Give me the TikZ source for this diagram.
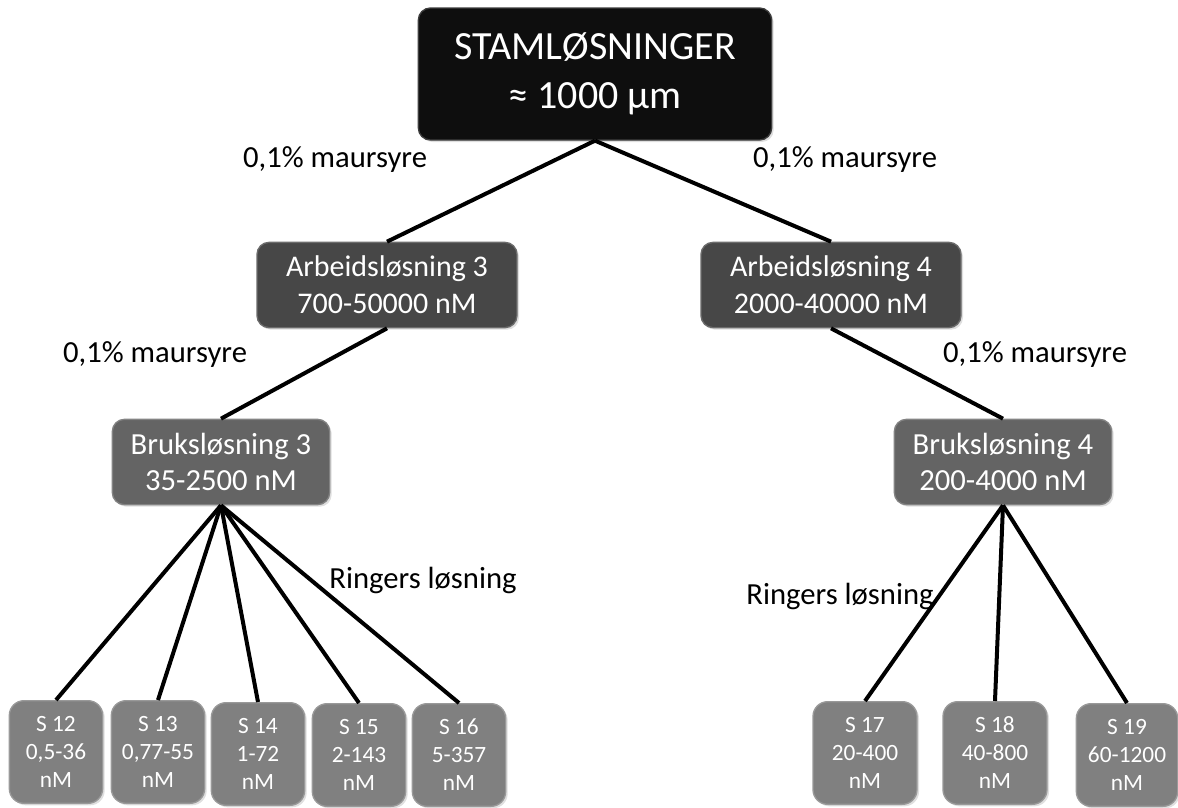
\documentclass[tikz,border=0pt]{standalone}
\usepackage{fontspec}
\setmainfont{Carlito}
\usepackage{xcolor}
\usetikzlibrary{shadows}
\definecolor{stamfill}{HTML}{0E0E0E}
\definecolor{arbfill}{HTML}{474747}
\definecolor{bruksfill}{HTML}{646464}
\definecolor{sfill}{HTML}{808080}

\tikzset{
  box/.style={rounded corners=9pt, text=white, align=center, inner sep=0pt, draw=#1!80!white, fill=#1, line width=1pt,
    drop shadow={shadow xshift=1.5pt, shadow yshift=-1.5pt, opacity=0.25}},
  stambox/.style={box=stamfill, minimum width=265pt, minimum height=99pt, font=\fontsize{30}{37}\selectfont},
  arbbox/.style={box=arbfill, minimum width=195pt, minimum height=64pt, font=\fontsize{22.5}{27.5}\selectfont},
  bruksbox/.style={box=bruksfill, minimum width=163pt, minimum height=64pt, font=\fontsize{23}{27.5}\selectfont},
  sbox/.style={box=sfill, rounded corners=11pt, minimum width=70pt, minimum height=77pt, font=\fontsize{17.5}{21}\selectfont},
  lbl/.style={font=\fontsize{23}{26}\selectfont},
  link/.style={line width=3pt, black},
}

\begin{document}
\begin{tikzpicture}[x=0.75pt, y=-0.75pt]
\useasboundingbox (0,0) rectangle (1178,807);

% top
\node[stambox] (stam) at (595,74) {STAMLØSNINGER\\≈ 1000 µm};

% working solutions
\node[arbbox] (arb3) at (387,285) {Arbeidsløsning 3\\700-50000 nM};
\node[arbbox] (arb4) at (831,285) {Arbeidsløsning 4\\2000-40000 nM};

% stock for use
\node[bruksbox] (bruks3) at (221,462) {Bruksløsning 3\\35-2500 nM};
\node[bruksbox] (bruks4) at (1003,462) {Bruksløsning 4\\200-4000 nM};

% samples
\node[sbox] (s12) at (56,752) {S 12\\0,5-36\\nM};
\node[sbox] (s13) at (158,752) {S 13\\0,77-55\\nM};
\node[sbox] (s14) at (258,754) {S 14\\1-72\\nM};
\node[sbox] (s15) at (359,755) {S 15\\2-143\\nM};
\node[sbox] (s16) at (459,755) {S 16\\5-357\\nM};
\node[sbox, minimum width=78pt] (s17) at (865,753) {S 17\\20-400\\nM};
\node[sbox, minimum width=78pt] (s18) at (995,753) {S 18\\40-800\\nM};
\node[sbox, minimum width=76pt] (s19) at (1127,755) {S 19\\60-1200\\nM};

% solvents
\node[lbl] (mf1) at (335,160) {0,1\% maursyre};
\node[lbl] (mf2) at (845,160) {0,1\% maursyre};
\node[lbl] (mf3) at (155,355) {0,1\% maursyre};
\node[lbl] (mf4) at (1035,355) {0,1\% maursyre};
\node[lbl] (rl1) at (423,580) {Ringers løsning};
\node[lbl] (rl2) at (840,596) {Ringers løsning};

\draw[link] (stam.south) -- (arb3.north);
\draw[link] (stam.south) -- (arb4.north);
\draw[link] (arb3.south) -- (bruks3.north);
\draw[link] (arb4.south) -- (bruks4.north);
\foreach \s in {s12,s13,s14,s15,s16}
  \draw[link] (bruks3.south) -- (\s.north);
\foreach \s in {s17,s18,s19}
  \draw[link] (bruks4.south) -- (\s.north);
\end{tikzpicture}
\end{document}
